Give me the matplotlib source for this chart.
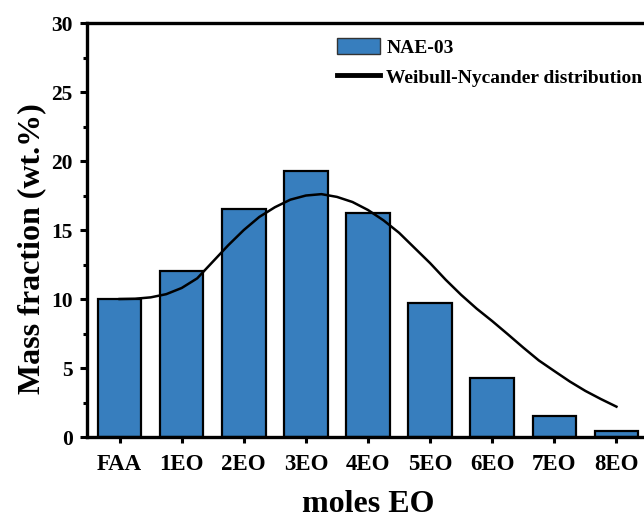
import matplotlib.pyplot as plt
from matplotlib.lines import Line2D
from matplotlib.patches import Patch
from matplotlib.ticker import MultipleLocator
import numpy as np

plt.rcParams['font.family'] = ['Liberation Serif', 'DejaVu Serif']
plt.rcParams['font.weight'] = 'bold'

categories = ['FAA', '1EO', '2EO', '3EO', '4EO', '5EO', '6EO', '7EO', '8EO']
mass_fraction = [10.0, 12.0, 16.5, 19.25, 16.2, 9.7, 4.25, 1.5, 0.4]

# fitted curve, every quarter step
fit_x = [0, 0.25, 0.5, 0.75, 1.0, 1.25, 1.5, 1.75, 2.0, 2.25, 2.5, 2.75, 3.0,
         3.25, 3.5, 3.75, 4.0, 4.25, 4.5, 4.75, 5.0, 5.25, 5.5, 5.75, 6.0,
         6.25, 6.5, 6.75, 7.0, 7.25, 7.5, 7.75, 8.0]
fit_y = [10.0, 10.02, 10.12, 10.35, 10.8, 11.5, 12.7, 13.9, 15.0, 15.95, 16.65,
         17.2, 17.5, 17.6, 17.4, 17.03, 16.45, 15.7, 14.8, 13.7, 12.6, 11.4,
         10.3, 9.3, 8.4, 7.45, 6.48, 5.55, 4.78, 4.02, 3.34, 2.75, 2.2]

bar_color = '#377EBE'

fig = plt.figure(figsize=(6.44, 5.21), dpi=100)
ax = fig.add_axes([0.1346, 0.1612, 0.8737, 0.7946])

x = np.arange(len(categories))
ax.bar(x, mass_fraction, width=0.7, color=bar_color, edgecolor='black',
       linewidth=1.6, zorder=2)
ax.plot(fit_x, fit_y, color='black', linewidth=1.8, zorder=3)

ax.set_xlim(-0.53, 8.53)
ax.set_ylim(0, 30)
ax.set_xticks(x)
ax.set_xticklabels(categories)
ax.yaxis.set_major_locator(MultipleLocator(5))
ax.yaxis.set_minor_locator(MultipleLocator(2.5))

for s in ['left', 'top', 'bottom']:
    ax.spines[s].set_linewidth(2.4)
ax.spines['right'].set_visible(False)

ax.tick_params(axis='both', which='major', direction='out', width=2.2, pad=5)
ax.tick_params(axis='y', which='major', length=5, labelsize=15.5)
ax.tick_params(axis='y', which='minor', length=3, width=2.2)
ax.tick_params(axis='x', which='major', length=4, pad=8, labelsize=16.5)
for lab in ax.get_xticklabels() + ax.get_yticklabels():
    lab.set_fontweight('bold')

ax.set_xlabel('moles EO', fontsize=23, fontweight='bold', labelpad=11)
ax.set_ylabel('Mass fraction (wt.%)', fontsize=23, fontweight='bold')
ax.yaxis.set_label_coords(-0.072, 0.455)

handles = [Patch(facecolor=bar_color, edgecolor='#333333', linewidth=1.0),
           Line2D([0], [0], color='black', linewidth=3.5)]
fig.legend(handles, ['NAE-03', 'Weibull-Nycander distribution'],
           loc='upper left', bbox_to_anchor=(337 / 644, 1 - 38.5 / 521),
           frameon=False, borderpad=0, borderaxespad=0,
           prop={'weight': 'bold', 'size': 14}, handlelength=2.2,
           handleheight=0.85, handletextpad=0.33, labelspacing=0.57)

fig.savefig('out.png', dpi=100)
